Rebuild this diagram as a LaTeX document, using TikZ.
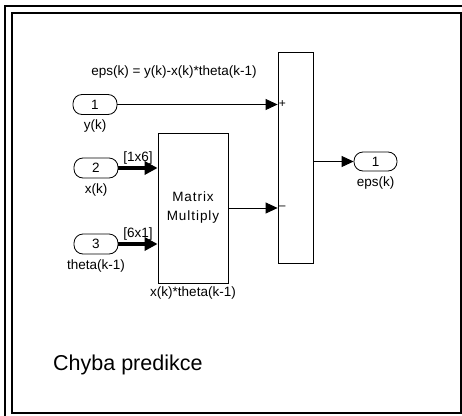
\documentclass[tikz,border=0pt]{standalone}
\usepackage{fontspec}
\setmainfont{Liberation Sans}
\usepackage{tikz}
\usetikzlibrary{arrows.meta, positioning}

\begin{document}
\begin{tikzpicture}[x=1pt, y=-1pt, node distance=5pt]
\tikzstyle{port} = [rectangle, rounded corners=9pt,
    minimum width=44pt, minimum height=20pt,
    draw=black, line width=0.8pt, inner sep=0pt,
    font=\fontsize{13.5}{15}\selectfont]
\tikzstyle{block} = [rectangle, align=center,
    draw=black, fill=white, line width=0.8pt, inner sep=0pt,
    font=\fontsize{13.5}{19}\selectfont\addfontfeature{LetterSpace=7}]
\tikzstyle{lbl} = [inner sep=0pt, font=\fontsize{13.5}{15}\selectfont]
\tikzstyle{sgn} = [inner sep=1pt, font=\fontsize{12}{12}\selectfont]
\tikzstyle{arrow} = [line width=0.8pt, -{Triangle[length=12pt,width=11pt]}]
\tikzstyle{bus} = [line width=4pt, -{Triangle[length=13pt,width=13pt]}]

\useasboundingbox (0,0) rectangle (462,415);

% --- frame ---
\draw [line width=2pt] (5,6) rectangle (480,430);
\draw [line width=2pt] (12,13) rectangle (461,413);

\node (eq) [lbl] at (174,72) {eps(k) = y(k)-x(k)*theta(k-1)};

\node (in1) [port] at (95,104.5) {1};
\node (ylab) [lbl, below=of in1] {y(k)};
\node (in2) [port] at (96,168) {2};
\node (xlab) [lbl, below=of in2] {x(k)};
\node (in3) [port] at (96,244) {3};
\node (tlab) [lbl, below=of in3] {theta(k-1)};

\node (mm) [block, minimum width=70pt, minimum height=150pt] at (193,208)
    {Matrix\\Multiply};
\node (mmlab) [lbl, below=3pt of mm] {x(k)*theta(k-1)};

\node (sum) [block, minimum width=35pt, minimum height=211pt] at (295.5,157.5) {};
\node (plus) [sgn, anchor=west] at (in1 -| sum.west) {+};
\node (minus) [sgn, anchor=west] at (mm -| sum.west) {\textendash};

\node (out1) [port, minimum width=43pt, minimum height=19pt] at (375.5,161.5) {1};
\node (elab) [lbl, below=of out1] {eps(k)};

\node (title) [inner sep=0pt, anchor=west, font=\fontsize{21.5}{24}\selectfont]
    at (53,365) {Chyba predikce};

\draw [arrow] (in1) -- (in1 -| sum.west);
\draw [bus] (in2) -- node[lbl, above=2pt] {[1x6]} (in2 -| mm.west);
\draw [bus] (in3) -- node[lbl, above=2pt] {[6x1]} (in3 -| mm.west);
\draw [arrow] (mm) -- (mm -| sum.west);
\draw [arrow] (out1 -| sum.east) -- (out1);
\end{tikzpicture}
\end{document}
